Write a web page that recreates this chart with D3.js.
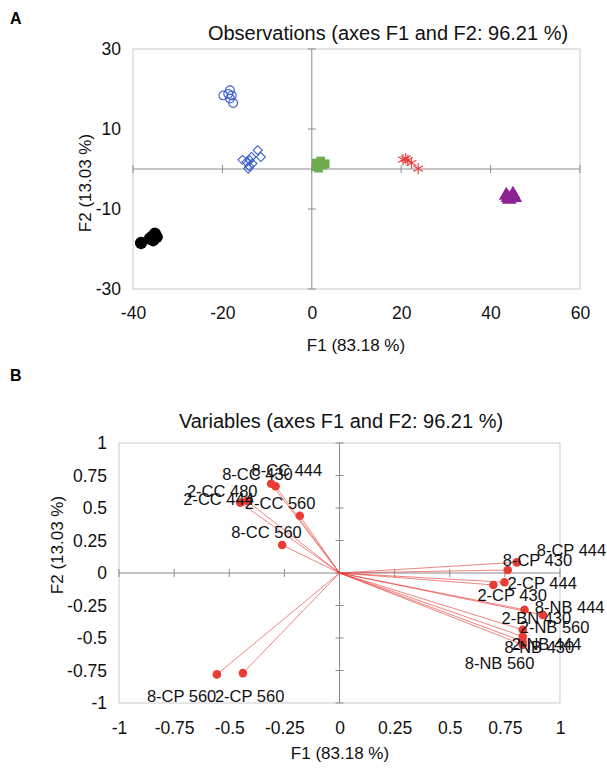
<!DOCTYPE html>
<html lang="en">
<head>
<meta charset="UTF-8">
<title>PCA observations and variables</title>
<style>
  body { margin: 0; background: #fff; }
  svg { display: block; font-family: "Liberation Sans", Arial, sans-serif; }
  .tick text { font-size: 17.5px; fill: #111; }
</style>
</head>
<body>
<svg id="chart" width="607" height="768"></svg>
<script src="https://d3js.org/d3.v7.min.js"></script>
<script>
// ---- panel A: observation scores [F1, F2] ----
const blueCircles = [[-19.8,18.4],[-18.7,18.8],[-18.3,19.7],[-17.9,18.4],[-18.3,17.6],[-17.6,16.5]];
const blueDiamonds = [[-15.5,2.3],[-14.6,1.75],[-13.9,2.2],[-13.5,3.0],[-14.0,0.7],[-14.2,0.1],[-12.1,4.7],[-11.4,3.0],[-13.3,1.35]];
const blackDots = [[-38.2,-18.5],[-35.8,-17.0],[-35.1,-16.2],[-35.5,-17.8],[-34.7,-17.0],[-36.2,-17.4]];
const greenSquares = [[1.0,1.5],[2.0,2.0],[2.5,1.0],[1.5,0.2],[3.0,1.3],[1.0,0.6]];
const redStars = [[20.4,2.35],[21.5,2.2],[22.3,1.5],[23.8,0.1],[21.0,2.6]];
const purpleTriangles = [[43.5,-6.6],[45.0,-6.3],[44.2,-7.6],[45.4,-7.2],[43.9,-7.2]];

const aTicksX = [-40, -20, 0, 20, 40, 60];
const aTicksY = [-30, -10, 10, 30];

// ---- panel B: variable loadings ----
const varNames = ["8-CC 430","8-CC 444","2-CC 480","2-CC 444","2-CC 560","8-CC 560",
                  "8-CP 560","2-CP 560","8-CP 444","8-CP 430","2-CP 444","2-CP 430",
                  "8-NB 444","2-BN 430","2-NB 560","2-NB 444","8-NB 430","8-NB 560"];
const varF1 = [-0.31,-0.29,-0.42,-0.45,-0.18,-0.26,-0.556,-0.438,0.804,0.763,0.748,0.698,0.922,0.839,0.831,0.831,0.83,0.831];
const varF2 = [0.687,0.667,0.555,0.54,0.44,0.215,-0.78,-0.77,0.082,0.023,-0.071,-0.092,-0.322,-0.283,-0.437,-0.488,-0.526,-0.552];

const bTicks = [-1, -0.75, -0.5, -0.25, 0, 0.25, 0.5, 0.75, 1];

// label nudges in px (layout only)
const labelDx = [-49,-24,-60,-57,-55,-51,-70,-28,20,-5,3,-16,-8,-23,-3,-11,-18,-58];
const labelDy = [-4,-10,-4,2,-7,-7,28,29,-6,-4,7,16,-2,14,3,14,12,24];

const svg = d3.select("#chart");
svg.append("rect").attr("width", 607).attr("height", 768).attr("fill", "#fff");

const fmt = d => String(d);

function frame(g, x, y, ticksX, ticksY, tickFmt, padX) {
    const [x0, x1] = x.range(), [y0, y1] = y.range();
    g.append("rect")
        .attr("x", x0).attr("y", y1)
        .attr("width", x1 - x0).attr("height", y0 - y1)
        .attr("fill", "none").attr("stroke", "#d4d4d4").attr("stroke-width", 1.2);

    // zero lines
    g.append("line").attr("x1", x0).attr("x2", x1)
        .attr("y1", y(0)).attr("y2", y(0)).attr("stroke", "#8a8a8a");
    g.append("line").attr("x1", x(0)).attr("x2", x(0))
        .attr("y1", y0).attr("y2", y1).attr("stroke", "#8a8a8a");

    // small crossing ticks on the zero lines
    g.selectAll(".tx").data(ticksX).join("line")
        .attr("x1", d => x(d)).attr("x2", d => x(d))
        .attr("y1", y(0) - 4).attr("y2", y(0) + 4)
        .attr("stroke", "#8a8a8a");
    g.selectAll(".ty").data(ticksY).join("line")
        .attr("y1", d => y(d)).attr("y2", d => y(d))
        .attr("x1", x(0) - 4).attr("x2", x(0) + 4)
        .attr("stroke", "#8a8a8a");

    // tick labels outside the box
    g.append("g")
        .attr("transform", "translate(" + x0 + ",0)")
        .call(d3.axisLeft(y).tickValues(ticksY).tickSize(0).tickPadding(12).tickFormat(tickFmt))
        .call(a => a.select(".domain").remove());
    g.append("g")
        .attr("transform", "translate(0," + y0 + ")")
        .call(d3.axisBottom(x).tickValues(ticksX).tickSize(0).tickPadding(padX).tickFormat(tickFmt))
        .call(a => a.select(".domain").remove());
    g.selectAll(".tick text").attr("font-family", null).attr("font-size", null);
}

function titles(g, title, tx, ty, xt, xty, yt, ytx, yty) {
    g.append("text").attr("x", tx).attr("y", ty)
        .attr("text-anchor", "middle").attr("font-size", 20).attr("fill", "#111").text(title);
    g.append("text").attr("x", xt).attr("y", xty)
        .attr("text-anchor", "middle").attr("font-size", 17).attr("fill", "#111").text("F1 (83.18 %)");
    g.append("text")
        .attr("transform", "translate(" + ytx + "," + yty + ") rotate(-90)")
        .attr("text-anchor", "middle").attr("font-size", 17).attr("fill", "#111").text(yt);
}

// ================= Panel A =================
const gA = svg.append("g");
const xA = d3.scaleLinear().domain([-40, 60]).range([133, 580]);
const yA = d3.scaleLinear().domain([-30, 30]).range([289, 49]);

gA.append("text").attr("x", 10).attr("y", 24)
    .attr("font-size", 16).attr("font-weight", "bold").text("A");
titles(gA, "Observations (axes F1 and F2: 96.21 %)", 388, 40, 356, 351, "F2 (13.03 %)", 91, 183);
frame(gA, xA, yA, aTicksX, aTicksY, fmt, 18);

const groups = [
    {pts: blueCircles, type: d3.symbolCircle, size: 60, fill: "none", stroke: "#3d5fcf"},
    {pts: blueDiamonds, type: d3.symbolDiamond2 || d3.symbolDiamond, size: 52, fill: "none", stroke: "#3d5fcf"},
    {pts: blackDots, type: d3.symbolCircle, size: 120, fill: "#000", stroke: "none"},
    {pts: greenSquares, type: d3.symbolSquare, size: 75, fill: "#6fab4f", stroke: "none"},
    {pts: redStars, type: d3.symbolAsterisk, size: 90, fill: "none", stroke: "#ec3b3b"},
    {pts: purpleTriangles, type: d3.symbolTriangle, size: 95, fill: "#8b2392", stroke: "none"}
];
groups.forEach(gr => {
    gA.append("g").selectAll("path").data(gr.pts).join("path")
        .attr("transform", d => "translate(" + xA(d[0]) + "," + yA(d[1]) + ")")
        .attr("d", d3.symbol().type(gr.type).size(gr.size))
        .attr("fill", gr.fill)
        .attr("stroke", gr.stroke)
        .attr("stroke-width", 1.1);
});

// ================= Panel B =================
const gB = svg.append("g");
const xB = d3.scaleLinear().domain([-1, 1]).range([119, 560]);
const yB = d3.scaleLinear().domain([-1, 1]).range([703, 443]);

gB.append("text").attr("x", 10).attr("y", 381)
    .attr("font-size", 16).attr("font-weight", "bold").text("B");
titles(gB, "Variables (axes F1 and F2: 96.21 %)", 341, 428, 340, 759, "F2 (13.03 %)", 63, 545);
frame(gB, xB, yB, bTicks, bTicks, fmt, 19);

const vars = varNames.map((n, i) => ({name: n, f1: varF1[i], f2: varF2[i], dx: labelDx[i], dy: labelDy[i]}));

gB.append("g").selectAll("line").data(vars).join("line")
    .attr("x1", xB(0)).attr("y1", yB(0))
    .attr("x2", d => xB(d.f1)).attr("y2", d => yB(d.f2))
    .attr("stroke", "#e8403a").attr("stroke-opacity", 0.65).attr("stroke-width", 1);

gB.append("g").selectAll("circle").data(vars).join("circle")
    .attr("cx", d => xB(d.f1)).attr("cy", d => yB(d.f2))
    .attr("r", 4.3).attr("fill", "#ea3b34");

gB.append("g").selectAll("text").data(vars).join("text")
    .attr("x", d => xB(d.f1) + d.dx)
    .attr("y", d => yB(d.f2) + d.dy)
    .attr("font-size", 16.5).attr("fill", "#111")
    .text(d => d.name);
</script>
</body>
</html>
